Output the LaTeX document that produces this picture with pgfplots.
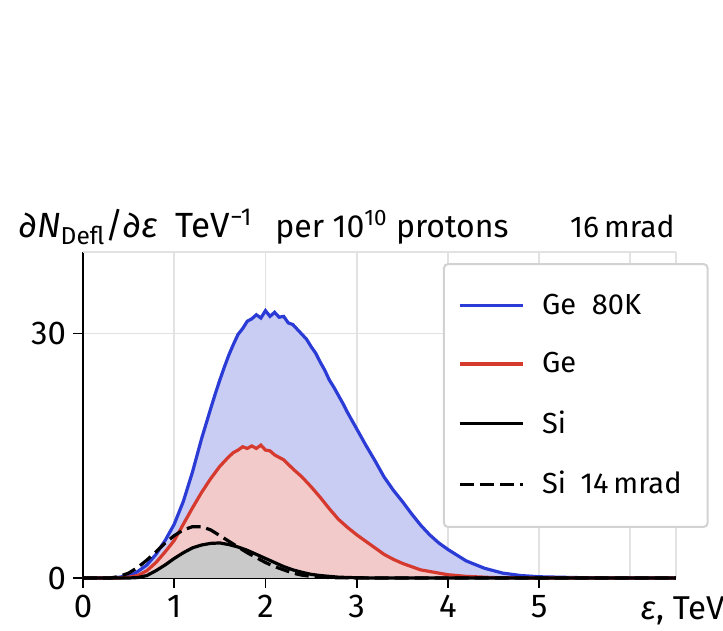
\documentclass[border=0pt]{standalone}
\usepackage{fontspec}
\setmainfont{Fira Sans}
\usepackage{pgfplots}
\pgfplotsset{compat=1.18}
\usepackage{pgfplotstable}
\definecolor{gline}{HTML}{2B3BD6}
\definecolor{gfill}{HTML}{C9CCF3}
\definecolor{rline}{HTML}{D63A2E}
\definecolor{rfill}{HTML}{F3CACA}
\definecolor{sfill}{HTML}{C9C9C9}
\definecolor{gridc}{HTML}{E2E2E2}

\pgfplotstableread{
x y
0 0
0.3 0
0.4 0.1
0.5 0.3
0.55 0.5
0.6 0.8
0.7 1.6
0.8 2.9
0.9 4.6
1.0 6.6
1.1 9.4
1.2 13.0
1.3 17.1
1.4 20.8
1.45 22.6
1.5 24.3
1.55 25.9
1.6 27.4
1.65 28.7
1.7 29.9
1.75 30.6
1.8 31.5
1.85 31.8
1.9 32.3
1.95 31.9
2.0 32.8
2.05 32.1
2.1 32.6
2.15 32.0
2.2 32.1
2.25 31.3
2.3 31.1
2.35 30.5
2.4 29.9
2.45 29.3
2.5 28.4
2.55 27.6
2.6 26.5
2.65 25.5
2.7 24.3
2.75 23.4
2.8 22.4
2.85 21.4
2.9 20.3
2.95 19.3
3.0 18.3
3.1 16.3
3.2 14.4
3.3 12.4
3.4 10.8
3.5 9.4
3.6 7.9
3.7 6.5
3.8 5.3
3.9 4.3
4.0 3.5
4.2 2.1
4.4 1.2
4.6 0.6
4.8 0.3
5.0 0.15
5.5 0.03
6.0 0
6.5 0
}\geeighty

\pgfplotstableread{
x y
0 0
0.4 0
0.5 0.1
0.6 0.3
0.7 0.9
0.8 1.9
0.9 3.2
1.0 4.6
1.1 6.6
1.2 8.6
1.3 10.5
1.4 12.2
1.5 13.7
1.6 14.9
1.65 15.4
1.7 15.7
1.75 16.1
1.8 15.9
1.85 16.2
1.9 15.9
1.95 16.3
2.0 15.7
2.05 15.6
2.1 15.1
2.2 14.5
2.3 13.4
2.4 12.4
2.5 11.2
2.6 9.9
2.7 8.5
2.8 7.2
2.9 6.2
3.0 5.3
3.1 4.5
3.2 3.7
3.3 2.9
3.4 2.3
3.5 1.8
3.6 1.4
3.7 1.0
3.8 0.8
3.9 0.6
4.0 0.4
4.2 0.2
4.5 0.05
5.0 0
6.5 0
}\ge

\pgfplotstableread{
x y
0 0
0.5 0
0.6 0.05
0.7 0.3
0.8 0.9
0.9 1.6
1.0 2.4
1.1 3.1
1.2 3.7
1.3 4.05
1.4 4.25
1.5 4.3
1.6 4.1
1.7 3.8
1.8 3.4
1.9 2.9
2.0 2.4
2.1 1.9
2.2 1.4
2.3 1.0
2.4 0.7
2.5 0.45
2.6 0.3
2.7 0.2
2.8 0.1
3.0 0.03
3.2 0
6.5 0
}\si

\pgfplotstableread{
x y
0 0
0.3 0
0.4 0.2
0.5 0.6
0.6 1.3
0.7 2.2
0.8 3.2
0.9 4.3
1.0 5.2
1.1 5.9
1.2 6.3
1.3 6.3
1.4 5.9
1.5 5.2
1.6 4.5
1.7 3.8
1.8 3.1
1.9 2.5
2.0 1.9
2.1 1.4
2.2 1.0
2.3 0.6
2.4 0.35
2.5 0.2
2.6 0.1
2.8 0.03
3.0 0
6.5 0
}\sifourteen

\begin{document}
\begin{tikzpicture}[font=\fontsize{16}{18}\selectfont]
\useasboundingbox (-41.5pt,-26.5pt) rectangle (320pt,289pt);
\begin{axis}[
  at={(0,0)}, anchor=south west,
  scale only axis, width=296.5pt, height=163pt,
  xmin=0, xmax=6.5, ymin=0, ymax=40,
  axis lines=left,
  axis line style={-, line width=0.9pt, black},
  xtick={0,1,2,3,4,5}, ytick={0,30},
  extra x ticks={6,6.5}, extra x tick labels={},
  extra y ticks={40}, extra y tick labels={},
  extra tick style={major tick length=0pt, grid=major},
  grid=major,
  grid style={gridc, line width=0.9pt},
  tick align=outside,
  major tick length=5pt,
  tick style={black, line width=0.9pt},
  /pgf/number format/assume math mode=true,
  ticklabel style={font=\fontsize{16.5}{18}\selectfont},
  clip=false,
  legend style={at={(rel axis cs:0.607,0.966)}, anchor=north west,
    draw=gray!35, line width=1pt, rounded corners=2pt, fill=white,
    inner xsep=7pt, inner ysep=13pt, row sep=13.5pt,
    font=\fontsize{14.5}{17}\selectfont,
    nodes={inner xsep=6pt}},
  legend cell align=left,
  legend image code/.code={\draw[#1] (0pt,0pt) -- (31.5pt,0pt);},
]
\addplot[draw=none, fill=gfill, forget plot] table {\geeighty} \closedcycle;
\addplot[draw=none, fill=rfill, forget plot] table {\ge} \closedcycle;
\addplot[draw=none, fill=sfill, forget plot] table {\si} \closedcycle;
\addplot[gline, line width=1.6pt] table {\geeighty};
\addlegendentry{\rule{3pt}{0pt}Ge\; 80K}
\addplot[rline, line width=1.6pt] table {\ge};
\addlegendentry{\rule{3pt}{0pt}Ge}
\addplot[black, line width=1.6pt] table {\si};
\addlegendentry{\rule{3pt}{0pt}Si}
\addplot[black, line width=1.6pt, dash pattern=on 7pt off 3pt] table {\sifourteen};
\addlegendentry{\rule{3pt}{0pt}Si\enspace 14\,mrad}
\node[anchor=north, inner sep=0pt, yshift=-9.3pt, font=\fontsize{16.5}{18}\selectfont] at (axis cs:6.57,0) {{\itshape ε}, TeV};
\end{axis}
\node[anchor=base west, inner sep=0pt, font=\fontsize{17.5}{19}\selectfont] at (-32pt,170pt) {{\itshape ∂N}\textsubscript{Defl}/{\itshape ∂ε}\enspace TeV\textsuperscript{−1}};
\node[anchor=base west, inner sep=0pt] at (96pt,170pt) {per 10\textsuperscript{10} protons};
\node[anchor=base east, inner sep=0pt, font=\fontsize{15}{17}\selectfont] at (296pt,170pt) {16\,mrad};
\end{tikzpicture}
\end{document}
